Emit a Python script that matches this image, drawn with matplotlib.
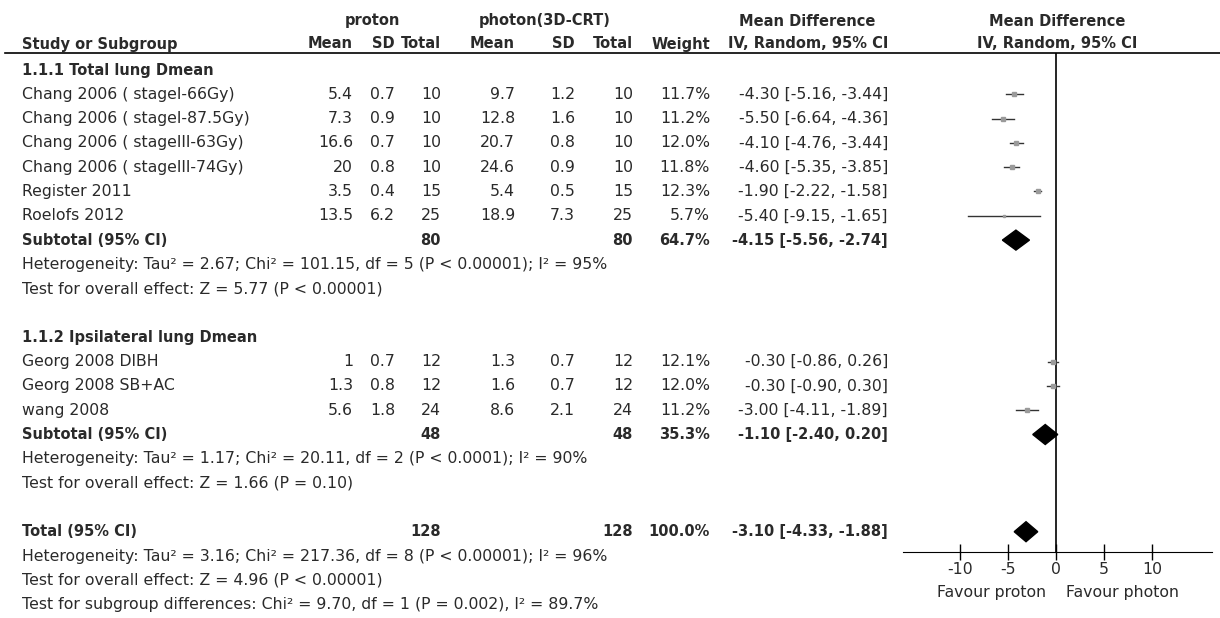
import matplotlib
matplotlib.use("Agg")
import matplotlib.pyplot as plt
from matplotlib.patches import Polygon

plt.rcParams["font.family"] = ["DejaVu Sans"]
plt.rcParams["font.size"] = 11.3
BOLD = 10.5

# study rows
g1_names = ["Chang 2006 ( stageI-66Gy)", "Chang 2006 ( stageI-87.5Gy)", "Chang 2006 ( stageIII-63Gy)",
            "Chang 2006 ( stageIII-74Gy)", "Register 2011", "Roelofs 2012"]
g1_pm = ["5.4", "7.3", "16.6", "20", "3.5", "13.5"]
g1_psd = ["0.7", "0.9", "0.7", "0.8", "0.4", "6.2"]
g1_pn = [10, 10, 10, 10, 15, 25]
g1_xm = ["9.7", "12.8", "20.7", "24.6", "5.4", "18.9"]
g1_xsd = ["1.2", "1.6", "0.8", "0.9", "0.5", "7.3"]
g1_xn = [10, 10, 10, 10, 15, 25]
g1_w = [11.7, 11.2, 12.0, 11.8, 12.3, 5.7]
g1_md = [-4.30, -5.50, -4.10, -4.60, -1.90, -5.40]
g1_lo = [-5.16, -6.64, -4.76, -5.35, -2.22, -9.15]
g1_hi = [-3.44, -4.36, -3.44, -3.85, -1.58, -1.65]

g2_names = ["Georg 2008 DIBH", "Georg 2008 SB+AC", "wang 2008"]
g2_pm = ["1", "1.3", "5.6"]
g2_psd = ["0.7", "0.8", "1.8"]
g2_pn = [12, 12, 24]
g2_xm = ["1.3", "1.6", "8.6"]
g2_xsd = ["0.7", "0.7", "2.1"]
g2_xn = [12, 12, 24]
g2_w = [12.1, 12.0, 11.2]
g2_md = [-0.30, -0.30, -3.00]
g2_lo = [-0.86, -0.90, -4.11]
g2_hi = [0.26, 0.30, -1.89]

# pooled rows: subtotal 1, subtotal 2, total
pool_n = [80, 48, 128]
pool_w = ["64.7%", "35.3%", "100.0%"]
pool_md = [-4.15, -1.10, -3.10]
pool_lo = [-5.56, -2.40, -4.33]
pool_hi = [-2.74, 0.20, -1.88]

notes = {
    8: "Heterogeneity: Tau² = 2.67; Chi² = 101.15, df = 5 (P < 0.00001); I² = 95%",
    9: "Test for overall effect: Z = 5.77 (P < 0.00001)",
    16: "Heterogeneity: Tau² = 1.17; Chi² = 20.11, df = 2 (P < 0.0001); I² = 90%",
    17: "Test for overall effect: Z = 1.66 (P = 0.10)",
    20: "Heterogeneity: Tau² = 3.16; Chi² = 217.36, df = 8 (P < 0.00001); I² = 96%",
    21: "Test for overall effect: Z = 4.96 (P < 0.00001)",
    22: "Test for subgroup differences: Chi² = 9.70, df = 1 (P = 0.002), I² = 89.7%",
}
ticks = [-10, -5, 0, 5, 10]

W, H = 1220, 618
fig = plt.figure(figsize=(W / 100, H / 100), dpi=100)
ax = fig.add_axes([0, 0, 1, 1])
ax.set_xlim(0, W); ax.set_ylim(H, 0); ax.axis("off")
tc = "#2a2a2a"

def row_y(i):
    return 70 + 24.3 * i

def btext(x, y, s, ha="left"):
    ax.text(x, y, s, ha=ha, va="center", weight="bold", size=BOLD, color=tc)

# column right edges (px)
cols = [353, 395, 441, 515, 575, 633, 710, 888]

# header
btext(372, 21, "proton", "center")
btext(545, 21, "photon(3D-CRT)", "center")
btext(807, 21, "Mean Difference", "center")
btext(1057, 21, "Mean Difference", "center")
btext(22, 44, "Study or Subgroup")
for c, s in zip(cols, ["Mean", "SD", "Total", "Mean", "SD", "Total", "Weight", "IV, Random, 95% CI"]):
    btext(c, 44, s, "right")
btext(1057, 44, "IV, Random, 95% CI", "center")
ax.plot([5, W], [52.5, 52.5], color="black", lw=1.2)

fx = fig.add_axes([903 / W, 1 - 552 / H, (1212 - 903) / W, (552 - 53) / H])
fx.set_xlim(-15.9, 16.25); fx.set_ylim(552, 53)
for s in ["top", "left", "right"]:
    fx.spines[s].set_visible(False)
fx.patch.set_alpha(0)
fx.set_yticks([])
fx.set_xticks(ticks)
fx.set_xticklabels([str(t) for t in ticks])
fx.tick_params(axis="x", direction="inout", length=11, width=1, labelsize=11.3, labelcolor=tc, pad=2)
fx.axvline(0, color="black", lw=1.2)

def study_rows(start, names, pm, psd, pn, xm, xsd, xn, w, md, lo, hi):
    for k in range(len(names)):
        y = row_y(start + k)
        ax.text(22, y, names[k], ha="left", va="center", color=tc)
        vals = [pm[k], psd[k], str(pn[k]), xm[k], xsd[k], str(xn[k]), f"{w[k]:.1f}%",
                f"{md[k]:.2f} [{lo[k]:.2f}, {hi[k]:.2f}]"]
        for c, s in zip(cols, vals):
            ax.text(c, y, s, ha="right", va="center", color=tc)
        fx.plot([lo[k], hi[k]], [y, y], color="#333333", lw=1.0)
        fx.plot(md[k], y, marker="s", ms=w[k] * 0.28, color="#9a9a9a", mec="#9a9a9a")

def pooled_row(i, label, j):
    y = row_y(i)
    btext(22, y, label)
    btext(cols[2], y, str(pool_n[j]), "right")
    btext(cols[5], y, str(pool_n[j]), "right")
    btext(cols[6], y, pool_w[j], "right")
    btext(cols[7], y, f"{pool_md[j]:.2f} [{pool_lo[j]:.2f}, {pool_hi[j]:.2f}]", "right")
    fx.add_patch(Polygon([[pool_lo[j], y], [pool_md[j], y - 10], [pool_hi[j], y],
                          [pool_md[j], y + 10]], closed=True, color="black"))

btext(22, row_y(0), "1.1.1 Total lung Dmean")
study_rows(1, g1_names, g1_pm, g1_psd, g1_pn, g1_xm, g1_xsd, g1_xn, g1_w, g1_md, g1_lo, g1_hi)
pooled_row(7, "Subtotal (95% CI)", 0)
btext(22, row_y(11), "1.1.2 Ipsilateral lung Dmean")
study_rows(12, g2_names, g2_pm, g2_psd, g2_pn, g2_xm, g2_xsd, g2_xn, g2_w, g2_md, g2_lo, g2_hi)
pooled_row(15, "Subtotal (95% CI)", 1)
pooled_row(19, "Total (95% CI)", 2)
for i, s in notes.items():
    ax.text(22, row_y(i), s, ha="left", va="center", color=tc)

ax.text(992, 593, "Favour proton", ha="center", va="center", color=tc)
ax.text(1123, 593, "Favour photon", ha="center", va="center", color=tc)

fig.savefig("out.png", dpi=100)
